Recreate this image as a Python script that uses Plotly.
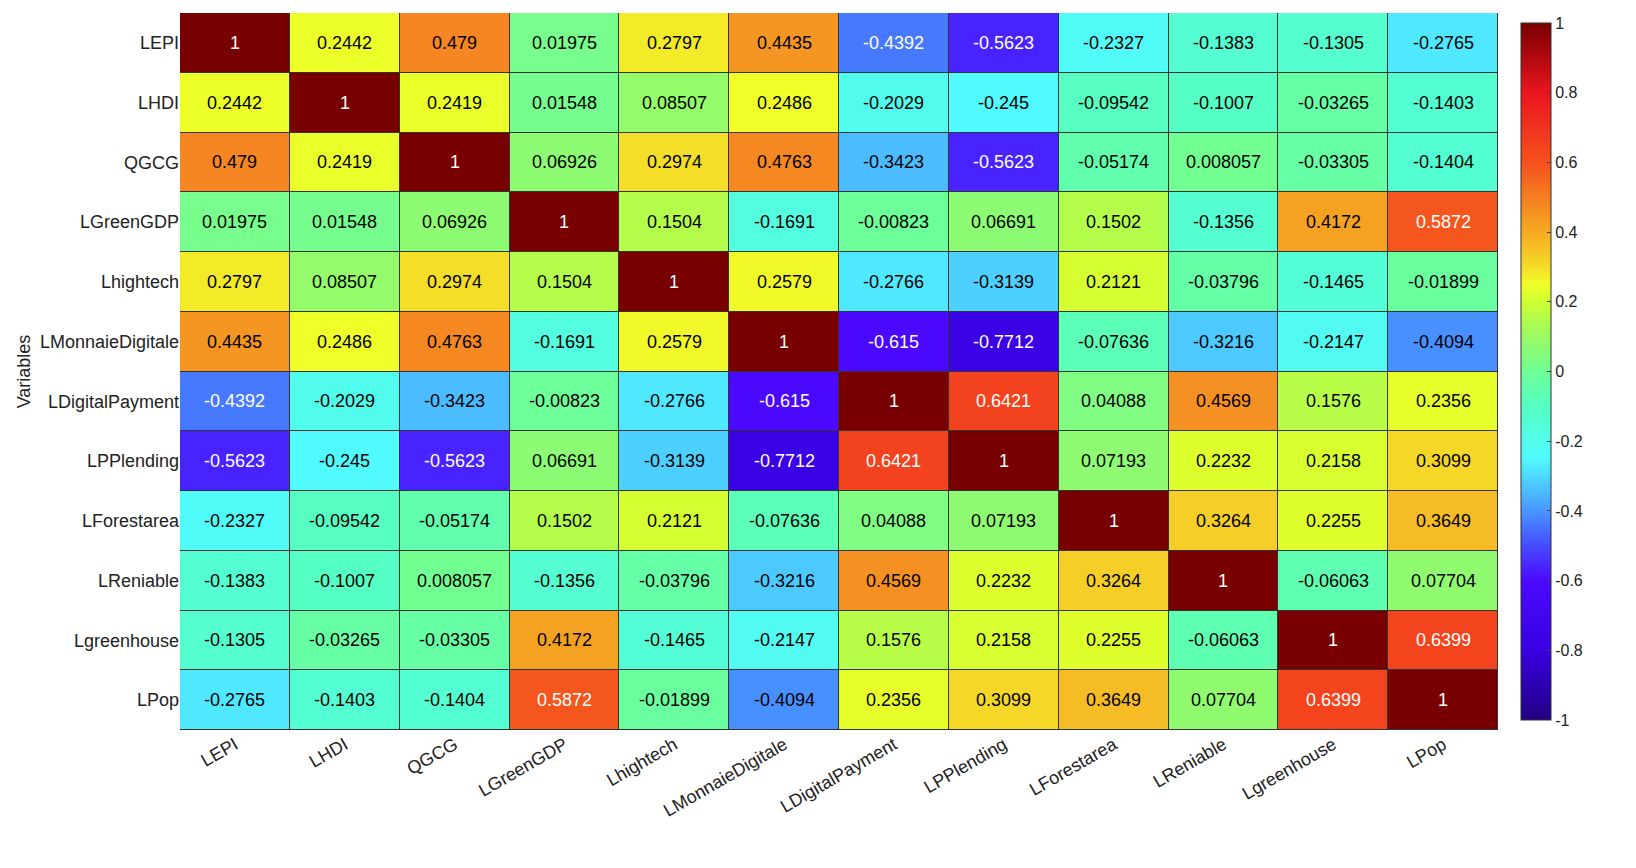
import plotly.graph_objects as go

labels = ["LEPI","LHDI","QGCG","LGreenGDP","Lhightech","LMonnaieDigitale","LDigitalPayment","LPPlending","LForestarea","LReniable","Lgreenhouse","LPop"]
values = [
 [1,0.2442,0.479,0.01975,0.2797,0.4435,-0.4392,-0.5623,-0.2327,-0.1383,-0.1305,-0.2765],
 [0.2442,1,0.2419,0.01548,0.08507,0.2486,-0.2029,-0.245,-0.09542,-0.1007,-0.03265,-0.1403],
 [0.479,0.2419,1,0.06926,0.2974,0.4763,-0.3423,-0.5623,-0.05174,0.008057,-0.03305,-0.1404],
 [0.01975,0.01548,0.06926,1,0.1504,-0.1691,-0.00823,0.06691,0.1502,-0.1356,0.4172,0.5872],
 [0.2797,0.08507,0.2974,0.1504,1,0.2579,-0.2766,-0.3139,0.2121,-0.03796,-0.1465,-0.01899],
 [0.4435,0.2486,0.4763,-0.1691,0.2579,1,-0.615,-0.7712,-0.07636,-0.3216,-0.2147,-0.4094],
 [-0.4392,-0.2029,-0.3423,-0.00823,-0.2766,-0.615,1,0.6421,0.04088,0.4569,0.1576,0.2356],
 [-0.5623,-0.245,-0.5623,0.06691,-0.3139,-0.7712,0.6421,1,0.07193,0.2232,0.2158,0.3099],
 [-0.2327,-0.09542,-0.05174,0.1502,0.2121,-0.07636,0.04088,0.07193,1,0.3264,0.2255,0.3649],
 [-0.1383,-0.1007,0.008057,-0.1356,-0.03796,-0.3216,0.4569,0.2232,0.3264,1,-0.06063,0.07704],
 [-0.1305,-0.03265,-0.03305,0.4172,-0.1465,-0.2147,0.1576,0.2158,0.2255,-0.06063,1,0.6399],
 [-0.2765,-0.1403,-0.1404,0.5872,-0.01899,-0.4094,0.2356,0.3099,0.3649,0.07704,0.6399,1],
]
cbar_ticks = [-1,-0.8,-0.6,-0.4,-0.2,0,0.2,0.4,0.6,0.8,1]

cmap = [[0.0,"rgb(35,0,130)"],[0.1,"rgb(55,0,225)"],[0.2,"rgb(75,10,255)"],
        [0.25,"rgb(70,75,255)"],[0.3,"rgb(72,150,255)"],[0.375,"rgb(80,250,255)"],
        [0.45,"rgb(85,255,195)"],[0.5,"rgb(110,255,150)"],[0.55,"rgb(155,250,100)"],
        [0.6,"rgb(205,255,50)"],[0.625,"rgb(240,255,40)"],[0.65,"rgb(245,220,40)"],
        [0.7,"rgb(245,170,35)"],[0.8,"rgb(245,80,30)"],[0.9,"rgb(235,20,30)"],
        [1.0,"rgb(120,0,0)"]]

fig = go.Figure(go.Heatmap(z=values, x=labels, y=labels, zmin=-1, zmax=1, colorscale=cmap,
    xgap=1, ygap=1, showscale=True,
    colorbar=dict(x=1.0099, xanchor="left", y=0.5, yanchor="middle", len=1, lenmode="fraction",
                  thickness=30, tickvals=cbar_ticks, ticktext=[f"{t:g}" for t in cbar_ticks],
                  outlinecolor="#333", outlinewidth=1, ticks="inside", ticklen=4,
                  tickfont=dict(size=16, color="#222"))))

for i, row in enumerate(values):
    for j, v in enumerate(row):
        fig.add_annotation(x=labels[j], y=labels[i], text=f"{v:.4g}", showarrow=False,
            font=dict(size=18, color="white" if (v < -0.42 or v > 0.5) else "black"))

fig.update_layout(width=1636, height=868, margin=dict(l=172, r=146, t=5, b=146),
    paper_bgcolor="white", plot_bgcolor="#333",
    font=dict(family="Liberation Sans, Arial", size=17, color="#222"))
fig.update_xaxes(tickangle=-30, showgrid=False, ticks="", tickfont=dict(size=18))
fig.update_yaxes(autorange="reversed", showgrid=False, ticks="", tickfont=dict(size=18),
                 title=dict(text="Variables", standoff=4, font=dict(size=18)))
fig.write_html("out.html")
